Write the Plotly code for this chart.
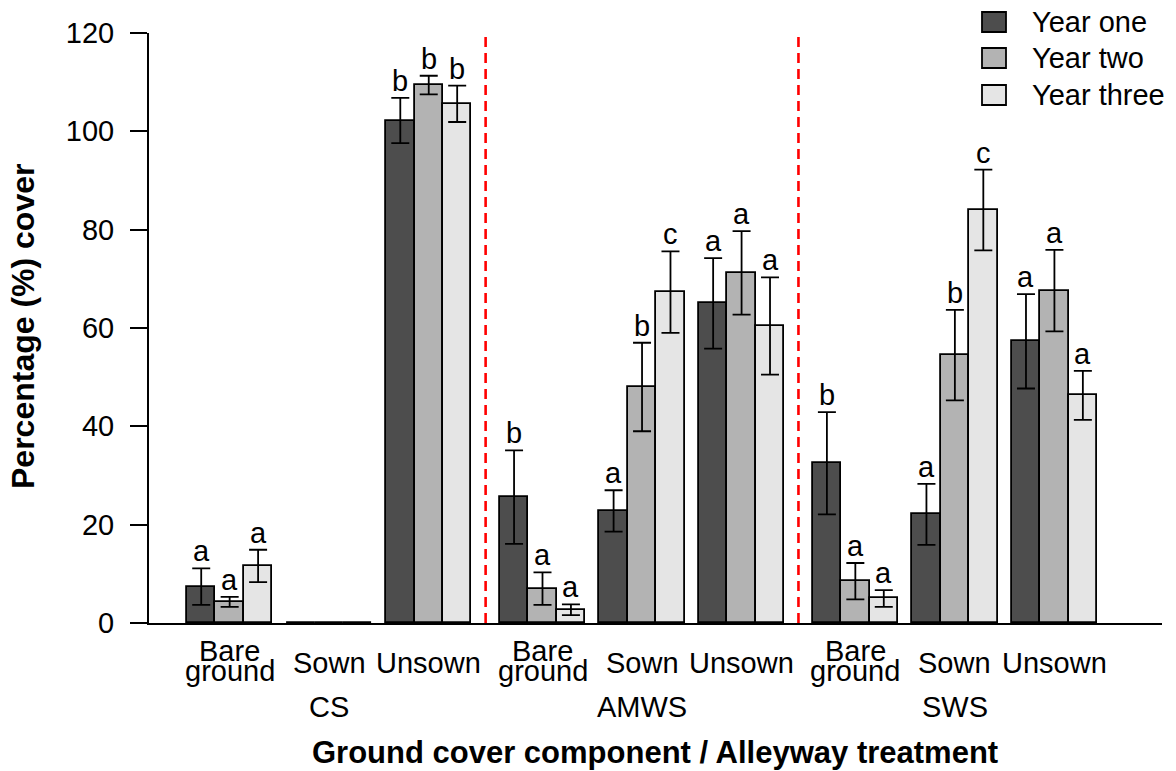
import plotly.graph_objects as go

# ---------------- data ----------------
treatments = ["CS", "AMWS", "SWS"]
components = ["Bare ground", "Sown", "Unsown"]
years = ["Year one", "Year two", "Year three"]

# order: CS (bare, sown, unsown), AMWS (bare, sown, unsown), SWS (bare, sown, unsown)
year_one = [7.4, 0, 102.2, 25.6, 22.8, 65.0, 32.5, 22.1, 57.3]
year_two = [4.3, 0, 109.4, 7.0, 48.0, 71.2, 8.5, 54.5, 67.6]
year_three = [11.6, 0, 105.6, 2.7, 67.3, 60.4, 5.0, 84.0, 46.3]

err_one = [3.7, None, 4.6, 9.5, 4.2, 9.2, 10.4, 6.2, 9.6]
err_two = [1.0, None, 1.9, 3.3, 9.0, 8.5, 3.7, 9.2, 8.3]
err_three = [3.3, None, 3.7, 1.1, 8.3, 9.9, 1.7, 8.2, 5.0]

letters_one = ["a", "", "b", "b", "a", "a", "b", "a", "a"]
letters_two = ["a", "", "b", "a", "b", "a", "a", "b", "a"]
letters_three = ["a", "", "b", "a", "c", "a", "a", "c", "a"]

# ---------------- styling / layout ----------------
colors = ["#4D4D4D", "#B3B3B3", "#E5E5E5"]
FONT = "Liberation Sans, Arial, sans-serif"
W, H = 1176, 771
ML, MR, MT, MB = 149, 14, 33, 148
PW, PH = W - ML - MR, H - MT - MB

# bar-slot layout: 1 unit per bar, 0.5 gap between components, 1 gap between treatments
GROUP_GAP = 0.5
TREAT_GAP = 1.0
n_years = len(years)
comp_span = n_years + GROUP_GAP
treat_span = len(components) * n_years + (len(components) - 1) * GROUP_GAP + TREAT_GAP


def slot_left(t, c):
    return t * treat_span + c * comp_span


def px2paper_x(px):
    return (px - ML) / PW


def px2paper_y(py):
    return (H - MB - py) / PH


series_vals = [year_one, year_two, year_three]
series_err = [err_one, err_two, err_three]
series_let = [letters_one, letters_two, letters_three]

fig = go.Figure()
annotations = []

for yi, yname in enumerate(years):
    xs, ys, es = [], [], []
    for t in range(len(treatments)):
        for c in range(len(components)):
            k = t * len(components) + c
            xs.append(slot_left(t, c) + yi + 0.5)
            ys.append(series_vals[yi][k])
            es.append(series_err[yi][k])
    fig.add_trace(go.Bar(
        x=xs, y=ys, width=1.0, name=yname, showlegend=False,
        marker=dict(color=colors[yi], line=dict(color="black", width=1.8)),
        error_y=dict(type="data", array=es, visible=True, color="black",
                     thickness=1.8, width=9),
    ))
    for x, v, e, lab in zip(xs, ys, es, series_let[yi]):
        if lab:
            annotations.append(dict(
                x=x, y=v + (e or 0), xref="x", yref="y", text=lab,
                showarrow=False, yanchor="bottom", xanchor="center",
                font=dict(family=FONT, size=29, color="black"), yshift=-1))

# component labels and treatment labels below the axis
for t, tname in enumerate(treatments):
    for c, cname in enumerate(components):
        cx = slot_left(t, c) + n_years / 2
        words = cname.split(" ")
        if len(words) == 2:
            for w, ys_ in zip(words, [-28, -48]):
                annotations.append(dict(
                    x=cx, y=0, xref="x", yref="paper", text=w, showarrow=False,
                    xanchor="center", yanchor="middle", yshift=ys_,
                    font=dict(family=FONT, size=29, color="black")))
        else:
            annotations.append(dict(
                x=cx, y=0, xref="x", yref="paper", text=cname, showarrow=False,
                xanchor="center", yanchor="middle", yshift=-40,
                font=dict(family=FONT, size=29, color="black")))
    annotations.append(dict(
        x=slot_left(t, 1) + n_years / 2, y=0, xref="x", yref="paper", text=tname,
        showarrow=False, xanchor="center", yanchor="middle", yshift=-84,
        font=dict(family=FONT, size=29, color="black")))

# axis titles
annotations.append(dict(
    x=0.5, y=0, xref="paper", yref="paper", xshift=(655 - (ML + PW / 2)),
    text="<b>Ground cover component / Alleyway treatment</b>", showarrow=False,
    xanchor="center", yanchor="middle", yshift=-129,
    font=dict(family=FONT, size=31, color="black")))
annotations.append(dict(
    x=0, y=px2paper_y(327), xref="paper", yref="paper", xshift=23 - ML,
    text="<b>Percentage (%) cover</b>", showarrow=False, textangle=-90,
    xanchor="center", yanchor="middle",
    font=dict(family=FONT, size=32, color="black")))

shapes = []
# red dashed separators between treatments
for t in range(1, len(treatments)):
    xsep = t * treat_span - TREAT_GAP / 2
    shapes.append(dict(type="line", xref="x", yref="y", x0=xsep, x1=xsep,
                       y0=0, y1=120, line=dict(color="#FF0000", width=2.6,
                                                dash="10px,6px")))

# manual legend
leg_rows = [22, 58, 95]
for yi, yname in enumerate(years):
    cy = leg_rows[yi]
    shapes.append(dict(type="rect", xref="paper", yref="paper",
                       x0=px2paper_x(982), x1=px2paper_x(1006),
                       y0=px2paper_y(cy - 10), y1=px2paper_y(cy + 10),
                       fillcolor=colors[yi], line=dict(color="black", width=1.8)))
    annotations.append(dict(
        x=px2paper_x(1030), y=px2paper_y(cy), xref="paper", yref="paper",
        text=yname, showarrow=False, xanchor="left", yanchor="middle",
        font=dict(family=FONT, size=29, color="black")))

x_min = (ML - 187) / 28.44
x_max = x_min + PW / 28.44

fig.update_layout(
    width=W, height=H,
    margin=dict(l=ML, r=MR, t=MT, b=MB, pad=0),
    plot_bgcolor="white", paper_bgcolor="white",
    barmode="overlay", bargap=0,
    font=dict(family=FONT, size=29, color="black"),
    annotations=annotations, shapes=shapes, showlegend=False,
    xaxis=dict(range=[x_min, x_max], showline=True, linecolor="black", linewidth=2,
               showticklabels=False, ticks="", showgrid=False, zeroline=False,
               fixedrange=True),
    yaxis=dict(range=[0, 120], tickvals=[0, 20, 40, 60, 80, 100, 120],
               showline=True, linecolor="black", linewidth=2,
               ticks="outside", ticklen=17, tickwidth=2, tickcolor="black",
               ticklabelstandoff=10,
               tickfont=dict(family=FONT, size=29, color="black"),
               showgrid=False, zeroline=False, fixedrange=True),
)

fig.write_html("out.html", config={"displayModeBar": False},
               post_script="document.body.style.margin='0';document.body.style.overflow='hidden';")
